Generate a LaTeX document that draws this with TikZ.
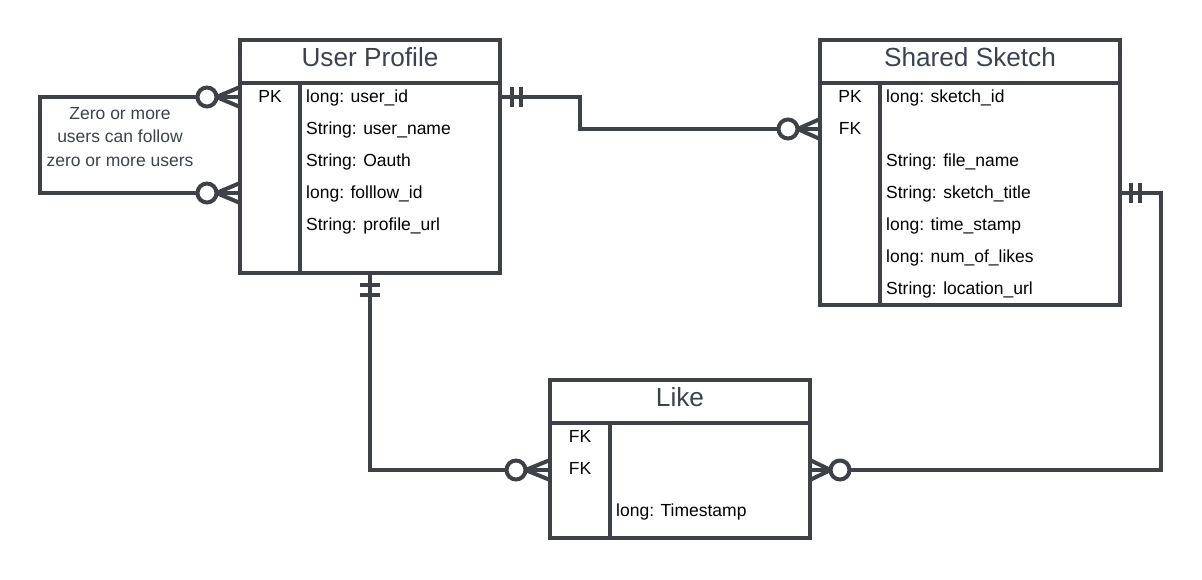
\documentclass[tikz,border=0pt]{standalone}
\usepackage{fontspec}
\setmainfont{Liberation Sans}
\usetikzlibrary{calc}
\definecolor{ln}{RGB}{62,66,72}
\definecolor{tt}{RGB}{58,67,80}
\begin{document}
\begin{tikzpicture}[x=1pt,y=-1pt,
  box/.style={draw=ln,line width=4pt,fill=white,inner sep=0pt,outer sep=0pt,anchor=north west},
  sep/.style={draw=ln,line width=4pt},
  conn/.style={draw=ln,line width=4pt},
  bar/.style={draw=ln,line width=3.5pt},
  zc/.style={circle,draw=ln,line width=4pt,fill=white,minimum size=19pt,inner sep=0pt,outer sep=0pt},
  attr/.style={font=\fontsize{17.5}{20}\selectfont,anchor=base west,inner sep=0pt,text=black},
  key/.style={font=\fontsize{17.5}{20}\selectfont,anchor=base,inner sep=0pt,text=black},
  ttl/.style={font=\fontsize{26.2}{30}\selectfont,anchor=base,inner sep=0pt,text=tt},
  note/.style={font=\fontsize{17.5}{23.3}\selectfont,align=center,inner sep=0pt,text=tt}
]
\useasboundingbox (0,0) rectangle (1202,579);

% ---------- User Profile ----------
\node[box,minimum width=260pt,minimum height=233pt] (up) at (240,40) {};
\draw[sep] (240,83) -- (500,83);
\draw[sep] (300,83) -- (300,273);
\node[ttl] (upt) at (370,66) {User Profile};
\node[key] (upk) at (270,102) {PK};
\node[attr] (up1) at (306,102) {long: user\_id};
\node[attr] (up2) at (306,134) {String: user\_name};
\node[attr] (up3) at (306,166) {String: Oauth};
\node[attr] (up4) at (306,198) {long: folllow\_id};
\node[attr] (up5) at (306,230) {String: profile\_url};

% ---------- Shared Sketch ----------
\node[box,minimum width=300pt,minimum height=265pt] (ss) at (820,40) {};
\draw[sep] (820,83) -- (1120,83);
\draw[sep] (880,83) -- (880,305);
\node[ttl] (sst) at (970,66) {Shared Sketch};
\node[key] (ssk1) at (850,102) {PK};
\node[key] (ssk2) at (850,134) {FK};
\node[attr] (ss1) at (886,102) {long: sketch\_id};
\node[attr] (ss2) at (886,166) {String: file\_name};
\node[attr] (ss3) at (886,198) {String: sketch\_title};
\node[attr] (ss4) at (886,230) {long: time\_stamp};
\node[attr] (ss5) at (886,262) {long: num\_of\_likes};
\node[attr] (ss6) at (886,294) {String: location\_url};

% ---------- Like ----------
\node[box,minimum width=260pt,minimum height=158pt] (lk) at (550,380) {};
\draw[sep] (550,423) -- (810,423);
\draw[sep] (610,423) -- (610,538);
\node[ttl] (lkt) at (680,406) {Like};
\node[key] (lkk1) at (580,442) {FK};
\node[key] (lkk2) at (580,474) {FK};
\node[attr] (lk1) at (616,516) {long: Timestamp};

% ---------- note ----------
\node[note] (nt) at (120,137) {Zero or more\\users can follow\\zero or more users};

% ---------- circles (zero) ----------
\node[zc] (c1) at (788,129) {};
\node[zc] (c2) at (207,97) {};
\node[zc] (c3) at (207,193) {};
\node[zc] (c4) at (516,470) {};
\node[zc] (c5) at (840,470) {};

% ---------- User Profile -> Shared Sketch ----------
\coordinate (p1) at ($(up.north east)+(0,57)$);
\draw[conn] (p1) -- (580,97) |- (c1.west);
\draw[bar] ($(p1)+(12,-10)$) -- ++(0,20);
\draw[bar] ($(p1)+(21,-10)$) -- ++(0,20);
\draw[conn] (c1.east) -- (ss.west |- c1.east);
\draw[conn] (c1.east) -- ($(ss.west |- c1.east)+(0,-10)$);
\draw[conn] (c1.east) -- ($(ss.west |- c1.east)+(0,10)$);

% ---------- self relation ----------
\draw[conn] (c2.west) -- (40,97) |- (c3.west);
\draw[conn] (c2.east) -- (up.west |- c2.east);
\draw[conn] (c2.east) -- ($(up.west |- c2.east)+(0,-10)$);
\draw[conn] (c2.east) -- ($(up.west |- c2.east)+(0,10)$);
\draw[conn] (c3.east) -- (up.west |- c3.east);
\draw[conn] (c3.east) -- ($(up.west |- c3.east)+(0,-10)$);
\draw[conn] (c3.east) -- ($(up.west |- c3.east)+(0,10)$);

% ---------- User Profile -> Like ----------
\coordinate (p2) at (up.south -| 370,0);
\draw[conn] (p2) -- (370,470) -- (c4.west);
\draw[bar] ($(p2)+(-10,12)$) -- ++(20,0);
\draw[bar] ($(p2)+(-10,22)$) -- ++(20,0);
\draw[conn] (c4.east) -- (lk.west |- c4.east);
\draw[conn] (c4.east) -- ($(lk.west |- c4.east)+(0,-10)$);
\draw[conn] (c4.east) -- ($(lk.west |- c4.east)+(0,10)$);

% ---------- Shared Sketch -> Like ----------
\coordinate (p3) at ($(ss.north east)+(0,153)$);
\draw[conn] (p3) -- (1161,193) |- (c5.east);
\draw[bar] ($(p3)+(11,-10)$) -- ++(0,20);
\draw[bar] ($(p3)+(20,-10)$) -- ++(0,20);
\draw[conn] (c5.west) -- (lk.east |- c5.west);
\draw[conn] (c5.west) -- ($(lk.east |- c5.west)+(0,-10)$);
\draw[conn] (c5.west) -- ($(lk.east |- c5.west)+(0,10)$);
\end{tikzpicture}
\end{document}
